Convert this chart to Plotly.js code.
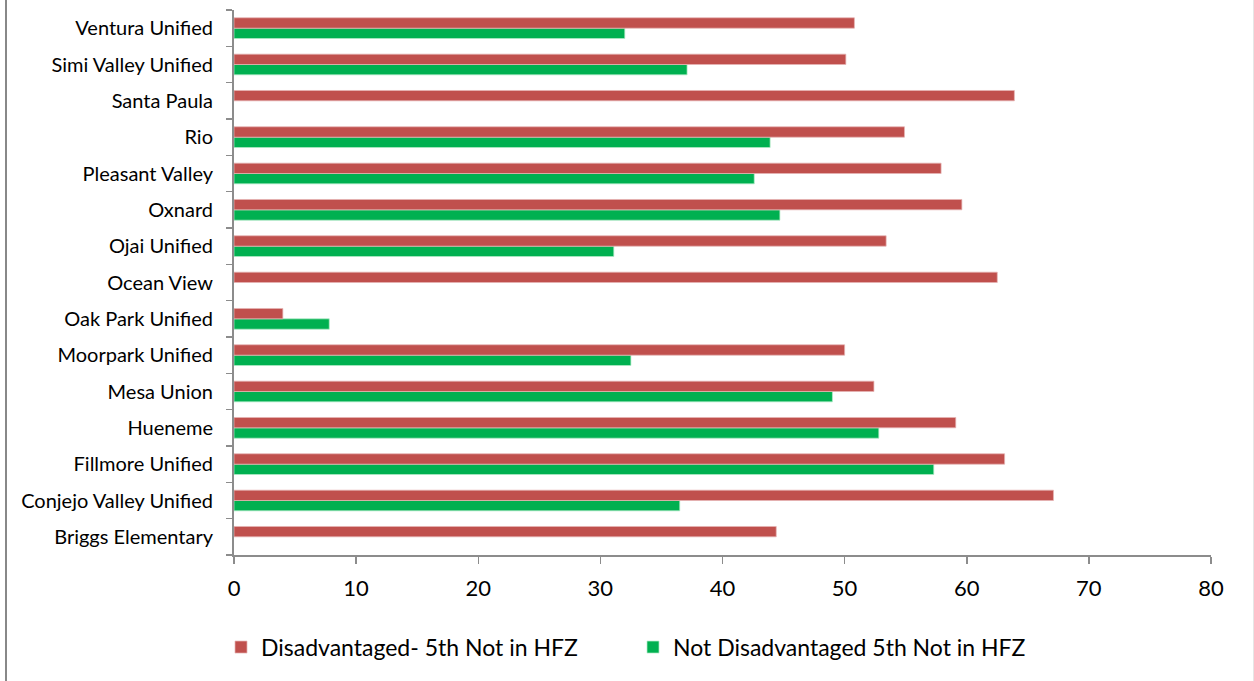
<!DOCTYPE html>
<html>
<head>
<meta charset="utf-8">
<script src="https://cdn.plot.ly/plotly-3.0.1.min.js"></script>
<style>
  html, body { margin: 0; padding: 0; background: #fff; }
  #wrap { position: relative; width: 1254px; height: 681px; overflow: hidden; }
  #chart { width: 1254px; height: 681px; }
  #lb { position: absolute; left: 5px; top: 0; width: 2px; height: 681px; background: #888; }
  #rb { position: absolute; left: 1253px; top: 0; width: 1px; height: 681px; background: #e6e6e6; }
</style>
</head>
<body>
<div id="wrap">
  <div id="chart"></div>
  <div id="lb"></div>
  <div id="rb"></div>
</div>
<script>
const categories = [
  "Briggs Elementary", "Conjejo Valley Unified", "Fillmore Unified", "Hueneme",
  "Mesa Union", "Moorpark Unified", "Oak Park Unified", "Ocean View",
  "Ojai Unified", "Oxnard", "Pleasant Valley", "Rio", "Santa Paula",
  "Simi Valley Unified", "Ventura Unified"
];
const disadvantaged = [44.4, 67.1, 63.1, 59.1, 52.4, 50.0, 4.0, 62.5, 53.4, 59.6, 57.9, 54.9, 63.9, 50.1, 50.8];
const notDisadvantaged = [null, 36.5, 57.3, 52.8, 49.0, 32.5, 7.8, null, 31.1, 44.7, 42.6, 43.9, null, 37.1, 32.0];
const seriesNames = ["Disadvantaged- 5th Not in HFZ", "Not Disadvantaged 5th Not in HFZ"];
const xTicks = [0, 10, 20, 30, 40, 50, 60, 70, 80];

const FONT = "Lato, 'Open Sans', sans-serif";

const traces = [
  {
    type: "bar", orientation: "h", name: seriesNames[1],
    y: categories, x: notDisadvantaged,
    marker: { color: "#00B050", line: { color: "rgba(180,235,200,0.9)", width: 0.8 } },
    hoverinfo: "x+name"
  },
  {
    type: "bar", orientation: "h", name: seriesNames[0],
    y: categories, x: disadvantaged,
    marker: { color: "#C0504D", line: { color: "rgba(230,180,180,0.9)", width: 0.8 } },
    hoverinfo: "x+name"
  }
];

const layout = {
  width: 1254, height: 681,
  margin: { l: 234, r: 43, t: 10, b: 126 },
  paper_bgcolor: "#ffffff", plot_bgcolor: "#ffffff",
  barmode: "group",
  bargap: 0.43, bargroupgap: 0,
  font: { family: FONT, color: "#000" },
  showlegend: true,
  legend: {
    orientation: "h", traceorder: "reversed",
    x: -0.0133, xanchor: "left", y: -0.169, yanchor: "middle",
    font: { family: FONT, size: 23, color: "#000" },
    entrywidth: 367, entrywidthmode: "pixels",
    itemwidth: 30
  },
  xaxis: {
    range: [0, 80], tickvals: xTicks, ticktext: xTicks.map(String),
    showgrid: false, zeroline: false,
    showline: true, linecolor: "#8c8c8c", linewidth: 2,
    ticks: "outside", ticklen: 7, tickwidth: 1.5, tickcolor: "#8c8c8c",
    tickfont: { family: FONT, size: 22, color: "#000" },
    ticklabelstandoff: 6,
    fixedrange: true
  },
  yaxis: {
    type: "category", categoryorder: "array", categoryarray: categories,
    showgrid: false, zeroline: false,
    showline: true, linecolor: "#8c8c8c", linewidth: 2,
    ticks: "outside", ticklen: 6, tickwidth: 1.5, tickcolor: "#8c8c8c",
    tickson: "boundaries",
    tickfont: { family: FONT, size: 20, color: "#000" },
    ticklabelstandoff: 15,
    fixedrange: true
  }
};

Plotly.newPlot("chart", traces, layout, { displayModeBar: false, staticPlot: true });
</script>
</body>
</html>
